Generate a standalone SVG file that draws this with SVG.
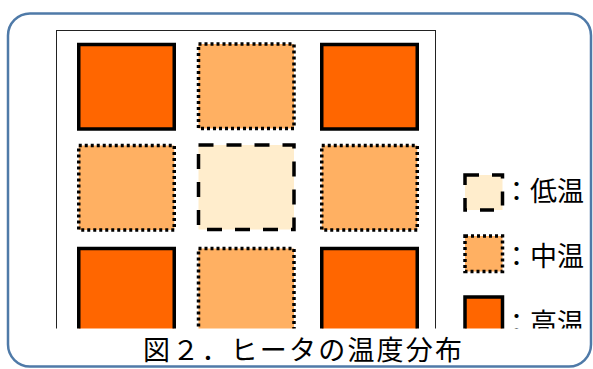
<svg xmlns="http://www.w3.org/2000/svg" width="593" height="369" viewBox="0 0 593 369">
<defs>
<style>
.hi{fill:#ff6600;stroke:#000;stroke-width:3.5}
.mid{fill:#ffb062;stroke:#000;stroke-width:3.5;stroke-dasharray:3 3}
.lo{fill:#ffedcc;stroke:#000;stroke-width:3.5;stroke-dasharray:15 13}
.lg{fill:#000;font-family:"Noto Sans CJK JP","Noto Sans CJK SC",sans-serif;font-size:27px}
</style>
<clipPath id="c"><rect x="0" y="0" width="593" height="328.5"/></clipPath>
</defs>
<rect x="8" y="13.5" width="583" height="353" rx="22" fill="#fff" stroke="#4f7aa8" stroke-width="2.5"/>
<g clip-path="url(#c)">
<rect id="frame" x="56.5" y="30.5" width="379" height="320" fill="#fff" stroke="#222" stroke-width="1"/>
<g id="n11"><rect class="hi" x="78.75" y="44.5" width="95.5" height="84.5"/></g>
<g id="n12"><rect class="mid" x="198.5" y="44" width="95.5" height="84.5"/></g>
<g id="n13"><rect class="hi" x="321.75" y="44.5" width="95.5" height="84.5"/></g>
<g id="n21"><rect class="mid" x="78.75" y="145.5" width="95.5" height="84.5"/></g>
<g id="n22"><rect class="lo" x="198.5" y="145" width="95.5" height="84.5"/></g>
<g id="n23"><rect class="mid" x="321.75" y="145.5" width="95.5" height="84.5"/></g>
<g id="n31"><rect class="hi" x="78.75" y="248.5" width="95.5" height="84.5"/></g>
<g id="n32"><rect class="mid" x="198.5" y="248.5" width="95.5" height="84.5"/></g>
<g id="n33"><rect class="hi" x="321.75" y="248.5" width="95.5" height="84.5"/></g>
<g id="leg-lo"><rect class="lo" x="465" y="175" width="37.5" height="35" style="stroke-dasharray:14 13"/><text class="lg" x="503" y="201">：低温</text></g>
<g id="leg-mid"><rect class="mid" x="465" y="236" width="37.5" height="35.5"/><text class="lg" x="503" y="266">：中温</text></g>
<g id="leg-hi"><rect class="hi" x="465" y="297" width="37.5" height="35.5"/><text class="lg" x="503" y="333">：高温</text></g>
</g>
<g id="connectors"></g>
<text id="caption" x="143" y="360" textLength="319" lengthAdjust="spacing" style="fill:#000;font-family:'Noto Sans CJK JP','Noto Sans CJK SC',sans-serif;font-size:27px">図２．ヒータの温度分布</text>
</svg>
